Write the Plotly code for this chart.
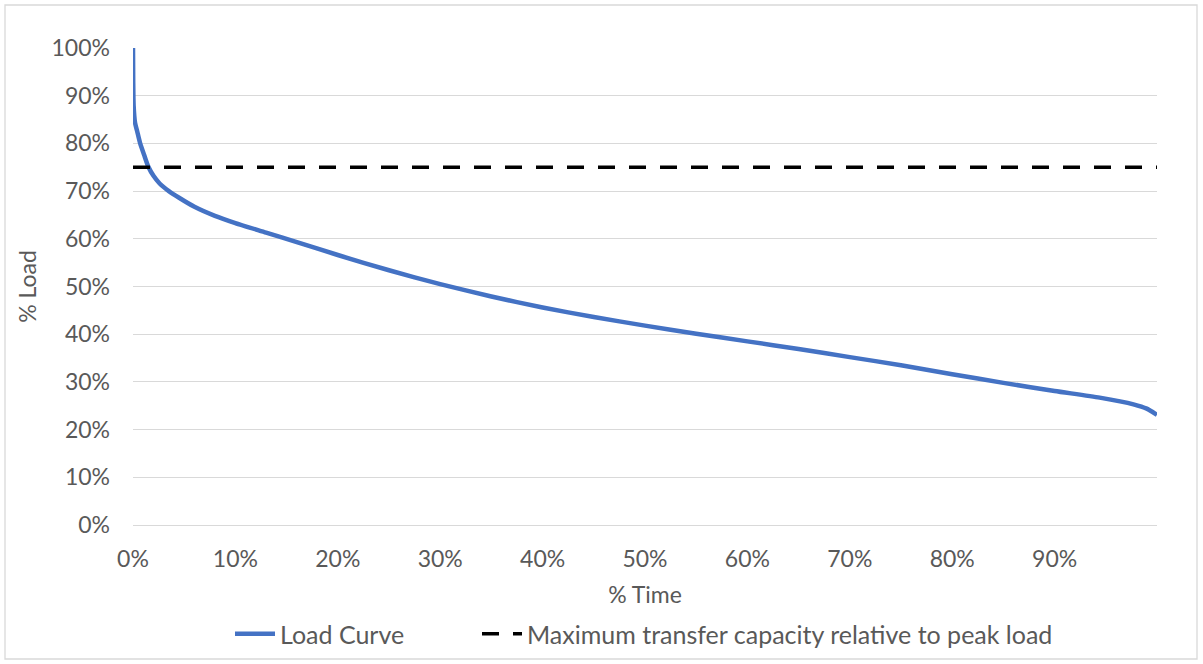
import plotly.graph_objects as go

# % of time (fraction) and % load (fraction)
time_frac = [0.0, 0.0002, 0.0006, 0.002, 0.004, 0.007, 0.011, 0.015, 0.020, 0.026, 0.035, 0.045,
             0.06, 0.08, 0.10, 0.13, 0.16, 0.20, 0.25, 0.30, 0.35, 0.40, 0.45, 0.50, 0.55, 0.60,
             0.65, 0.70, 0.75, 0.80, 0.85, 0.90, 0.944, 0.977, 0.99, 1.0]
load_frac = [1.00, 0.93, 0.88, 0.843, 0.826, 0.800, 0.775, 0.751, 0.732, 0.716, 0.700, 0.686,
             0.667, 0.648, 0.633, 0.613, 0.593, 0.566, 0.534, 0.505, 0.479, 0.456, 0.436, 0.418,
             0.401, 0.385, 0.369, 0.352, 0.335, 0.316, 0.298, 0.281, 0.267, 0.253, 0.244, 0.231]

capacity_level = 0.75
capacity_x = [0.0, 1.0]

x_tick_vals = [0.0, 0.1, 0.2, 0.3, 0.4, 0.5, 0.6, 0.7, 0.8, 0.9]
x_tick_text = ["0%", "10%", "20%", "30%", "40%", "50%", "60%", "70%", "80%", "90%"]
y_tick_vals = [0.0, 0.1, 0.2, 0.3, 0.4, 0.5, 0.6, 0.7, 0.8, 0.9, 1.0]
y_tick_text = ["0%", "10%", "20%", "30%", "40%", "50%", "60%", "70%", "80%", "90%", "100%"]

FONT = "Lato, 'Open Sans', sans-serif"
TXT = "#595959"

fig = go.Figure()
fig.add_trace(go.Scatter(
    x=time_frac, y=load_frac, mode="lines", name="Load Curve", legend="legend",
    line=dict(color="#4472C4", width=4.5, shape="spline", smoothing=0.6),
))
fig.add_trace(go.Scatter(
    x=capacity_x, y=[capacity_level] * len(capacity_x), mode="lines",
    name="Maximum transfer capacity relative to peak load", legend="legend2",
    line=dict(color="#000000", width=3.5, dash="17px,14px"),
))

legend_common = dict(orientation="h", xref="container", yref="container", xanchor="left",
                      yanchor="middle", y=(664 - 634) / 664, font=dict(size=25, color=TXT),
                      itemwidth=40, bgcolor="rgba(0,0,0,0)")

fig.update_layout(
    width=1203, height=664,
    margin=dict(l=133, r=46, t=48, b=139, autoexpand=False),
    paper_bgcolor="white", plot_bgcolor="white",
    font=dict(family=FONT, size=23, color=TXT),
    showlegend=True,
    legend=dict(x=230 / 1203, **legend_common),
    legend2=dict(x=477 / 1203, **legend_common),
    xaxis=dict(range=[0, 1], tickvals=x_tick_vals, ticktext=x_tick_text, automargin=False,
               showgrid=False, zeroline=False, showline=True, linecolor="#d9d9d9", linewidth=1.3,
               ticks="", ticklen=0, ticklabelstandoff=13,
               title=dict(text="% Time", font=dict(size=23, color=TXT), standoff=16)),
    yaxis=dict(range=[0, 1], tickvals=y_tick_vals, ticktext=y_tick_text, automargin=False,
               showgrid=True, gridcolor="#d9d9d9", gridwidth=1.3, zeroline=False, showline=False,
               ticks="", ticklen=0, ticklabelstandoff=22,
               title=dict(text="% Load", font=dict(size=23, color=TXT), standoff=8)),
    shapes=[dict(type="rect", xref="paper", yref="paper",
                 x0=(5 - 133) / 1024, x1=(1197 - 133) / 1024,
                 y0=-(659 - 525) / 477, y1=(525 - 5) / 477,
                 line=dict(color="#d9d9d9", width=1.3), fillcolor="rgba(0,0,0,0)", layer="below")],
)

fig.write_html("out.html", config={"displayModeBar": False},
               post_script="document.body.style.margin='0';document.body.style.padding='0';")
